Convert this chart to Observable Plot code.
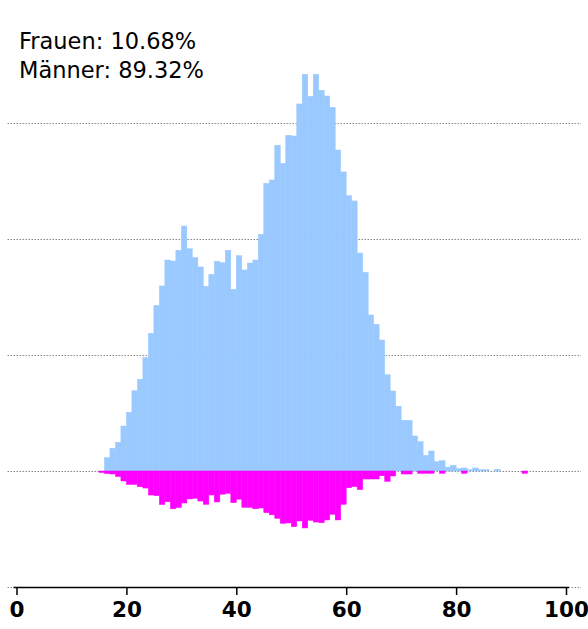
<!DOCTYPE html>
<html>
<head>
<meta charset="utf-8">
<script src="https://cdn.jsdelivr.net/npm/d3@7"></script>
<script src="https://cdn.jsdelivr.net/npm/@observablehq/plot@0.6"></script>
<style>
  html, body { margin: 0; padding: 0; background: #fff; }
</style>
</head>
<body>
<div id="chart"></div>
<script>
// Ages (1-year bins, bin [age, age+1))
const menAges = d3.range(16, 88);
const menCounts = [
  11.5, 19.6, 24.7, 38.8, 50.6, 69.2, 79.1, 97.7, 118.7, 142.8,   // 16-25
  159.5, 181.9, 181.0, 190.3, 211.2, 191.6, 184.0, 175.9, 159.2, 169.6, // 26-35
  180.8, 179.6, 190.3, 156.6, 185.6, 173.3, 179.3, 181.9, 204.1, 248.0, // 36-45
  250.9, 280.8, 265.3, 289.4, 288.8, 316.4, 342.0, 323.0, 342.0, 328.2, // 46-55
  323.3, 313.5, 276.7, 257.8, 237.3, 232.8, 187.9, 171.3, 134.5, 126.5, // 56-65
  112.9, 83.0, 69.0, 55.8, 43.7, 43.7, 30.2, 25.3, 13.5, 17.2,          // 66-75
  8.0, 8.9, 3.4, 4.9, 2.0, 2.6, 1.1, 2.6, 1.1, 1.1, 0, 1.5              // 76-87
];
const womenAges = d3.range(15, 93);
const womenCounts = [
  1.3, 2.2, 2.6, 4.7, 8.6, 11.6, 11.6, 13.6, 14.7, 20.7,   // 15-24
  21.3, 28.9, 26.5, 32.6, 31.5, 27.6, 24.1, 23.5, 25.9, 28.7, // 25-34
  20.7, 26.7, 20.0, 19.2, 27.3, 24.3, 31.3, 31.3, 32.6, 31.9, // 35-44
  35.9, 37.8, 40.8, 45.1, 44.8, 48.0, 43.1, 49.1, 42.5, 44.0, // 45-54
  44.6, 42.2, 37.3, 42.2, 28.7, 14.4, 13.5, 16.1, 6.9, 6.9,   // 55-64
  6.9, 4.1, 8.9, 4.3, 0, 2.6, 2.6, 0, 2.0, 2.0,               // 65-74
  2.0, 0, 2.0, 0, 0, 0, 2.0, 0, 0, 0,                         // 75-84
  0, 0, 0, 0, 0, 0, 0, 2.0                                    // 85-92
];
const legendLines = ["Frauen: 10.68%", "Männer: 89.32%"];
const xTicks = [0, 20, 40, 60, 80, 100];
const gridValues = [-100, 0, 100, 200, 300];

const men = menAges.map((a, i) => ({age: a, v: menCounts[i]})).filter(d => d.v > 0);
const women = womenAges.map((a, i) => ({age: a, v: -womenCounts[i]})).filter(d => d.v < 0);

const chart = Plot.plot({
  width: 588,
  height: 629,
  marginLeft: 16.5,
  marginRight: 22,
  marginTop: 7,
  marginBottom: 42,
  style: {fontFamily: "'DejaVu Sans', Verdana, sans-serif", background: "#fff", color: "#000", overflow: "visible"},
  x: {domain: [0, 100], label: null},
  y: {domain: [-100, 400], axis: null},
  marks: [
    Plot.ruleY(gridValues, {stroke: "#888", strokeWidth: 1, strokeDasharray: "1.5,1.5", insetLeft: -9, insetRight: -15}),
    Plot.rectY(men, {x1: "age", x2: d => d.age + 1, y1: 0, y2: "v", fill: "#99c9ff", stroke: "#99c9ff", strokeWidth: 0.5, inset: 0}),
    Plot.rectY(women, {x1: "age", x2: d => d.age + 1, y1: 0, y2: "v", fill: "#ff00ff", stroke: "#ff00ff", strokeWidth: 0.5, inset: 0}),
    Plot.ruleY([-100], {stroke: "#000", strokeWidth: 1.5, insetLeft: -3, insetRight: -3}),
    Plot.axisX({ticks: xTicks, label: null, tickSize: 8, tickPadding: 6, fontSize: 21.5, fontWeight: "bold", fontFamily: "'DejaVu Sans', Verdana, sans-serif", stroke: "#000", strokeWidth: 1.5, y: -100}),
    Plot.text([legendLines.join("\n")], {frameAnchor: "top-left", textAnchor: "start", lineAnchor: "top", dx: 2, dy: 22, fontSize: 22.5, lineHeight: 1.25, fill: "#000"})
  ]
});
document.getElementById("chart").appendChild(chart);
</script>
</body>
</html>
